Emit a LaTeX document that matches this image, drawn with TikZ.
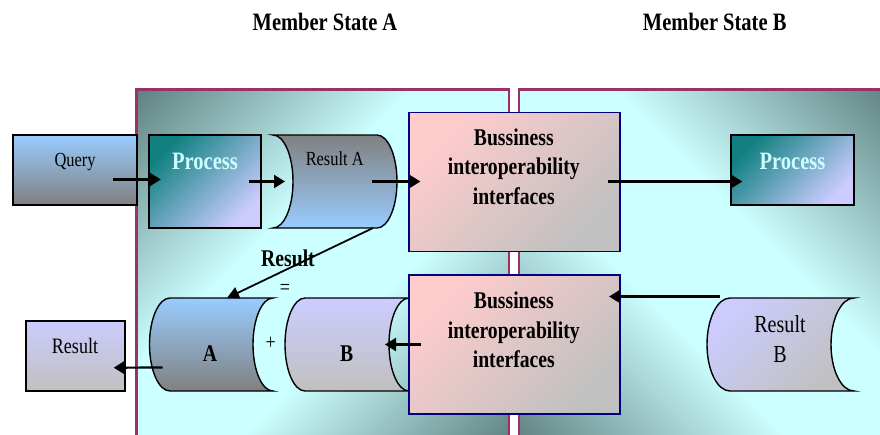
\documentclass[tikz,border=0pt]{standalone}
\usepackage{fontspec}
\setmainfont{Liberation Serif}[FakeStretch=0.82]
\usetikzlibrary{arrows.meta,calc}
\definecolor{pborder}{RGB}{153,51,102}
\definecolor{pdark}{RGB}{96,128,128}
\definecolor{pcyan}{RGB}{204,255,255}
\definecolor{lblue}{RGB}{153,204,255}
\definecolor{mgray}{RGB}{128,128,128}
\definecolor{lav}{RGB}{204,204,255}
\definecolor{sgray}{RGB}{192,192,192}
\definecolor{pinkc}{RGB}{255,204,204}
\definecolor{tealc}{RGB}{16,128,128}
\definecolor{navyc}{RGB}{0,0,128}
\definecolor{proctext}{RGB}{204,255,255}
\pgfdeclareverticalshading{panelshade}{100bp}{color(0bp)=(pdark); color(25bp)=(pdark); color(44bp)=(pcyan); color(56bp)=(pcyan); color(75bp)=(pdark); color(100bp)=(pdark)}
\begin{document}
\begin{tikzpicture}[x=1pt,y=-1pt,
  pframe/.style={draw=pborder,line width=2.8pt},
  shp/.style={draw=black,line width=1.4pt},
  procbox/.style={draw=black,line width=1.4pt,top color=tealc,bottom color=lav,shading angle=45,inner sep=0pt},
  bizbox/.style={draw=navyc,line width=1.2pt,top color=pinkc,bottom color=sgray,shading angle=45,inner sep=0pt,minimum width=211pt,minimum height=139pt},
  titlefont/.style={font=\fontsize{25}{30}\selectfont\bfseries,inner sep=0pt},
  bizfont/.style={font=\fontsize{24}{29.7}\selectfont\bfseries,align=center,inner sep=0pt},
  procfont/.style={font=\fontsize{25}{30}\selectfont\bfseries,text=proctext,inner sep=0pt},
  boldfont/.style={font=\fontsize{24}{30}\selectfont\bfseries,inner sep=0pt},
  regfont/.style={font=\fontsize{20}{24}\selectfont,inner sep=0pt},
  signfont/.style={font=\fontsize{22}{26}\selectfont,inner sep=0pt},
  conn/.style={line width=2.2pt,-{Triangle[length=11pt,width=13pt]}},
  diag/.style={line width=1.8pt,-{Triangle[length=12pt,width=12pt]}}
]
\useasboundingbox[fill=white] (0,0) rectangle (880,434);

% panel A
\begin{scope}
  \clip (136.5,89.5) rectangle (509,446);
  \begin{scope}[transform canvas={rotate around={45:(322.75,267.75)}}]
    \shade[shading=panelshade] (60,10) rectangle (585.5,525.5);
  \end{scope}
\end{scope}
\draw[pframe] (136.5,89.5) rectangle (509,446);
% panel B
\begin{scope}
  \clip (519,89.5) rectangle (892,446);
  \begin{scope}[transform canvas={rotate around={-45:(705.5,267.75)}}]
    \shade[shading=panelshade] (442.75,10) rectangle (968.25,525.5);
  \end{scope}
\end{scope}
\draw[pframe] (519,89.5) rectangle (892,446);

% titles
\node[titlefont,anchor=base] (titleA) at (325,30) {Member State A};
\node[titlefont,anchor=base] (titleB) at (714.7,30) {Member State B};

% Query
\node[draw=black,line width=1.4pt,top color=lblue,bottom color=mgray,inner sep=0pt,minimum width=124pt,minimum height=70pt] (q) at (75,170) {};
\node[regfont,anchor=base] (qt) at (75,166.7) {Query};

% Process A
\node[procbox,minimum width=112pt,minimum height=93pt] (pa) at (205,181.5) {};
\node[procfont,anchor=base] (pat) at (205,169.3) {Process};

% Result A (reversed stored data)
\path[shp,top color=mgray,bottom color=lblue] (273,135) -- (377,135)
  .. controls (388,135) and (397,155.8) .. (397,181.5)
  .. controls (397,207.2) and (388,228) .. (377,228) -- (273,228)
  .. controls (284,228) and (293,207.2) .. (293,181.5)
  .. controls (293,155.8) and (284,135) .. (273,135) -- cycle;
\coordinate (raL) at (293,181.5);
\coordinate (raR) at (397,181.5);
\coordinate (raBR) at (377,228);
\node[regfont,anchor=base] (rat) at (334.7,165) {Result A};

% Business box 1
\node[bizbox] (b1) at (514.5,182) {};
\node[bizfont,anchor=north] (b1t) at (513.8,128.4) {Bussiness\\interoperability\\interfaces};

% Process B
\node[procbox,minimum width=123pt,minimum height=70pt] (pb) at (792.5,170) {};
\node[procfont,anchor=base] (pbt) at (792.5,169.3) {Process};

% Cylinder A
\path[shp,top color=lblue,bottom color=mgray] (170,298) -- (273,298)
  .. controls (262,298) and (253,318.8) .. (253,344.5)
  .. controls (253,370.2) and (262,391) .. (273,391) -- (170,391)
  .. controls (158.7,391) and (149.5,370.2) .. (149.5,344.5)
  .. controls (149.5,318.8) and (158.7,298) .. (170,298) -- cycle;
\coordinate (cAL) at (149.5,344.5);
\coordinate (cAT) at (227,298);
\node[boldfont,anchor=base] (cAt) at (210,361.7) {A};

% Cylinder B
\path[shp,top color=lav,bottom color=sgray] (305,298) -- (409,298)
  .. controls (398,298) and (389,318.8) .. (389,344.5)
  .. controls (389,370.2) and (398,391) .. (409,391) -- (305,391)
  .. controls (294,391) and (285,370.2) .. (285,344.5)
  .. controls (285,318.8) and (294,298) .. (305,298) -- cycle;
\coordinate (cBR) at (389,344.5);
\node[boldfont,anchor=base] (cBt) at (346.7,361.7) {B};

% Business box 2
\node[bizbox] (b2) at (514.5,344.5) {};
\node[bizfont,anchor=north] (b2t) at (513.8,291.7) {Bussiness\\interoperability\\interfaces};

% Result B
\path[shp,top color=lav,bottom color=sgray,shading angle=45] (730,298) -- (854,298)
  .. controls (841.3,298) and (831,318.8) .. (831,344.5)
  .. controls (831,370.2) and (841.3,391) .. (854,391) -- (730,391)
  .. controls (717.3,391) and (707,370.2) .. (707,344.5)
  .. controls (707,318.8) and (717.3,298) .. (730,298) -- cycle;
\coordinate (rbTL) at (730,298);
\node[font=\fontsize{24.5}{30}\selectfont,align=center,inner sep=0pt,anchor=north] (rbt) at (780,315) {Result\\B};

% Result (final)
\node[draw=black,line width=1.4pt,top color=lav,bottom color=sgray,inner sep=0pt,minimum width=99pt,minimum height=70pt] (res) at (75.5,356) {};
\node[font=\fontsize{22}{26}\selectfont,inner sep=0pt,anchor=base] (rest) at (75,353.3) {Result};

% labels
\node[boldfont,anchor=base] (rlab) at (288,266) {Result};
\node[signfont] (eq) at (285,289) {=};
\node[signfont] (plus) at (270.7,343.3) {+};

% connectors
\draw[conn] ($(q.east)+(-25,9.5)$) -- ($(pa.west)+(12.5,-2)$);
\draw[conn] ($(pa.east)+(-13,0)$) -- ($(raL)+(-8,0)$);
\draw[conn] ($(raR)+(-25,0)$) -- ($(b1.west)+(12,-0.5)$);
\draw[conn] ($(b1.east)+(-13,-0.5)$) -- ($(pb.west)+(12,11.5)$);
\draw[conn] ($(rbTL)+(-10,-1.5)$) -- ($(b2.east)+(-11.5,-48)$);
\draw[conn] ($(b2.west)+(13,0)$) -- ($(cBR)+(-4,0)$);
\draw[conn] ($(cAL)+(13,23)$) -- ($(res.east)+(-12,11.7)$);
\draw[diag] ($(raBR)+(-4,0)$) -- (cAT);
\end{tikzpicture}
\end{document}
